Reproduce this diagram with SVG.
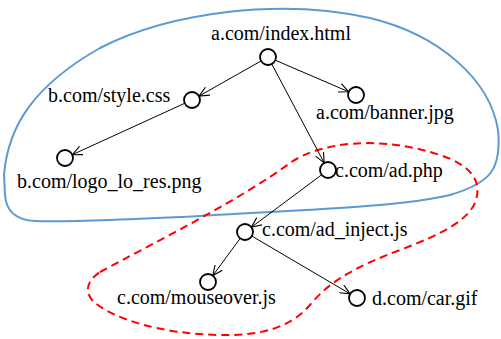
<svg xmlns="http://www.w3.org/2000/svg" width="501" height="339" viewBox="0 0 501 339">
<style>
text{font-family:"Liberation Serif","Times New Roman",serif;font-size:20px;fill:#000}
.n{fill:#fff;stroke:#000;stroke-width:1.8}
.e{stroke:#000;stroke-width:1;fill:none;marker-end:url(#arr)}
.blue{fill:none;stroke:#5b9bd5;stroke-width:2}
.red{fill:none;stroke:#ff0000;stroke-width:2;stroke-dasharray:8,5}
</style>
<defs>
<marker id="arr" viewBox="0 0 10 10" refX="10" refY="5" markerWidth="10" markerHeight="10" markerUnits="userSpaceOnUse" orient="auto">
<path d="M0,0.5 L10,5 L0,9.5" fill="none" stroke="#000" stroke-width="1.1"/>
</marker>
</defs>
<rect width="501" height="339" fill="#fff"/>
<g id="regions">
<path class="blue" d="M4,175 C8,125 35,85 100,48 C170,12 280,-2 370,18 C440,35 490,80 498,130 C502,170 490,183 450,195 C400,207 300,210 200,216 C120,220 60,222 35,221 C15,220 6,210 5,195 Z"/>
<path class="red" d="M100,272 C150,245 240,200 290,163 C320,142 380,135 440,155 C470,165 482,180 476,200 C470,220 440,235 400,250 C360,265 330,280 310,305 C290,328 260,336 220,335 C160,334 110,318 92,300 C84,290 88,280 100,272 Z"/>
</g>
<g id="connectors">
<line class="e" x1="261" y1="61" x2="199" y2="96.1"/>
<line class="e" x1="275.3" y1="60.2" x2="348.7" y2="91.8"/>
<line class="e" x1="271.8" y1="64.1" x2="324.2" y2="162.9"/>
<line class="e" x1="184.7" y1="103.3" x2="72.3" y2="154.7"/>
<line class="e" x1="321.6" y1="174.8" x2="251.4" y2="227.2"/>
<line class="e" x1="240.2" y1="238.4" x2="212.8" y2="275.6"/>
<line class="e" x1="251.9" y1="236.1" x2="350.1" y2="293.9"/>
</g>
<g id="n-index"><circle class="n" cx="268" cy="57" r="8"/><text x="211" y="40">a.com/index.html</text></g>
<g id="n-style"><circle class="n" cx="192" cy="100" r="8"/><text x="48" y="102">b.com/style.css</text></g>
<g id="n-banner"><circle class="n" cx="356" cy="95" r="8"/><text x="316" y="119">a.com/banner.jpg</text></g>
<g id="n-logo"><circle class="n" cx="65" cy="158" r="8"/><text x="17" y="188">b.com/logo_lo_res.png</text></g>
<g id="n-adphp"><circle class="n" cx="328" cy="170" r="8"/><text x="335" y="177">c.com/ad.php</text></g>
<g id="n-inject"><circle class="n" cx="245" cy="232" r="8"/><text x="262" y="236">c.com/ad_inject.js</text></g>
<g id="n-mouseover"><circle class="n" cx="208" cy="282" r="8"/><text x="117" y="304">c.com/mouseover.js</text></g>
<g id="n-car"><circle class="n" cx="357" cy="298" r="8"/><text x="372" y="305">d.com/car.gif</text></g>
</svg>
